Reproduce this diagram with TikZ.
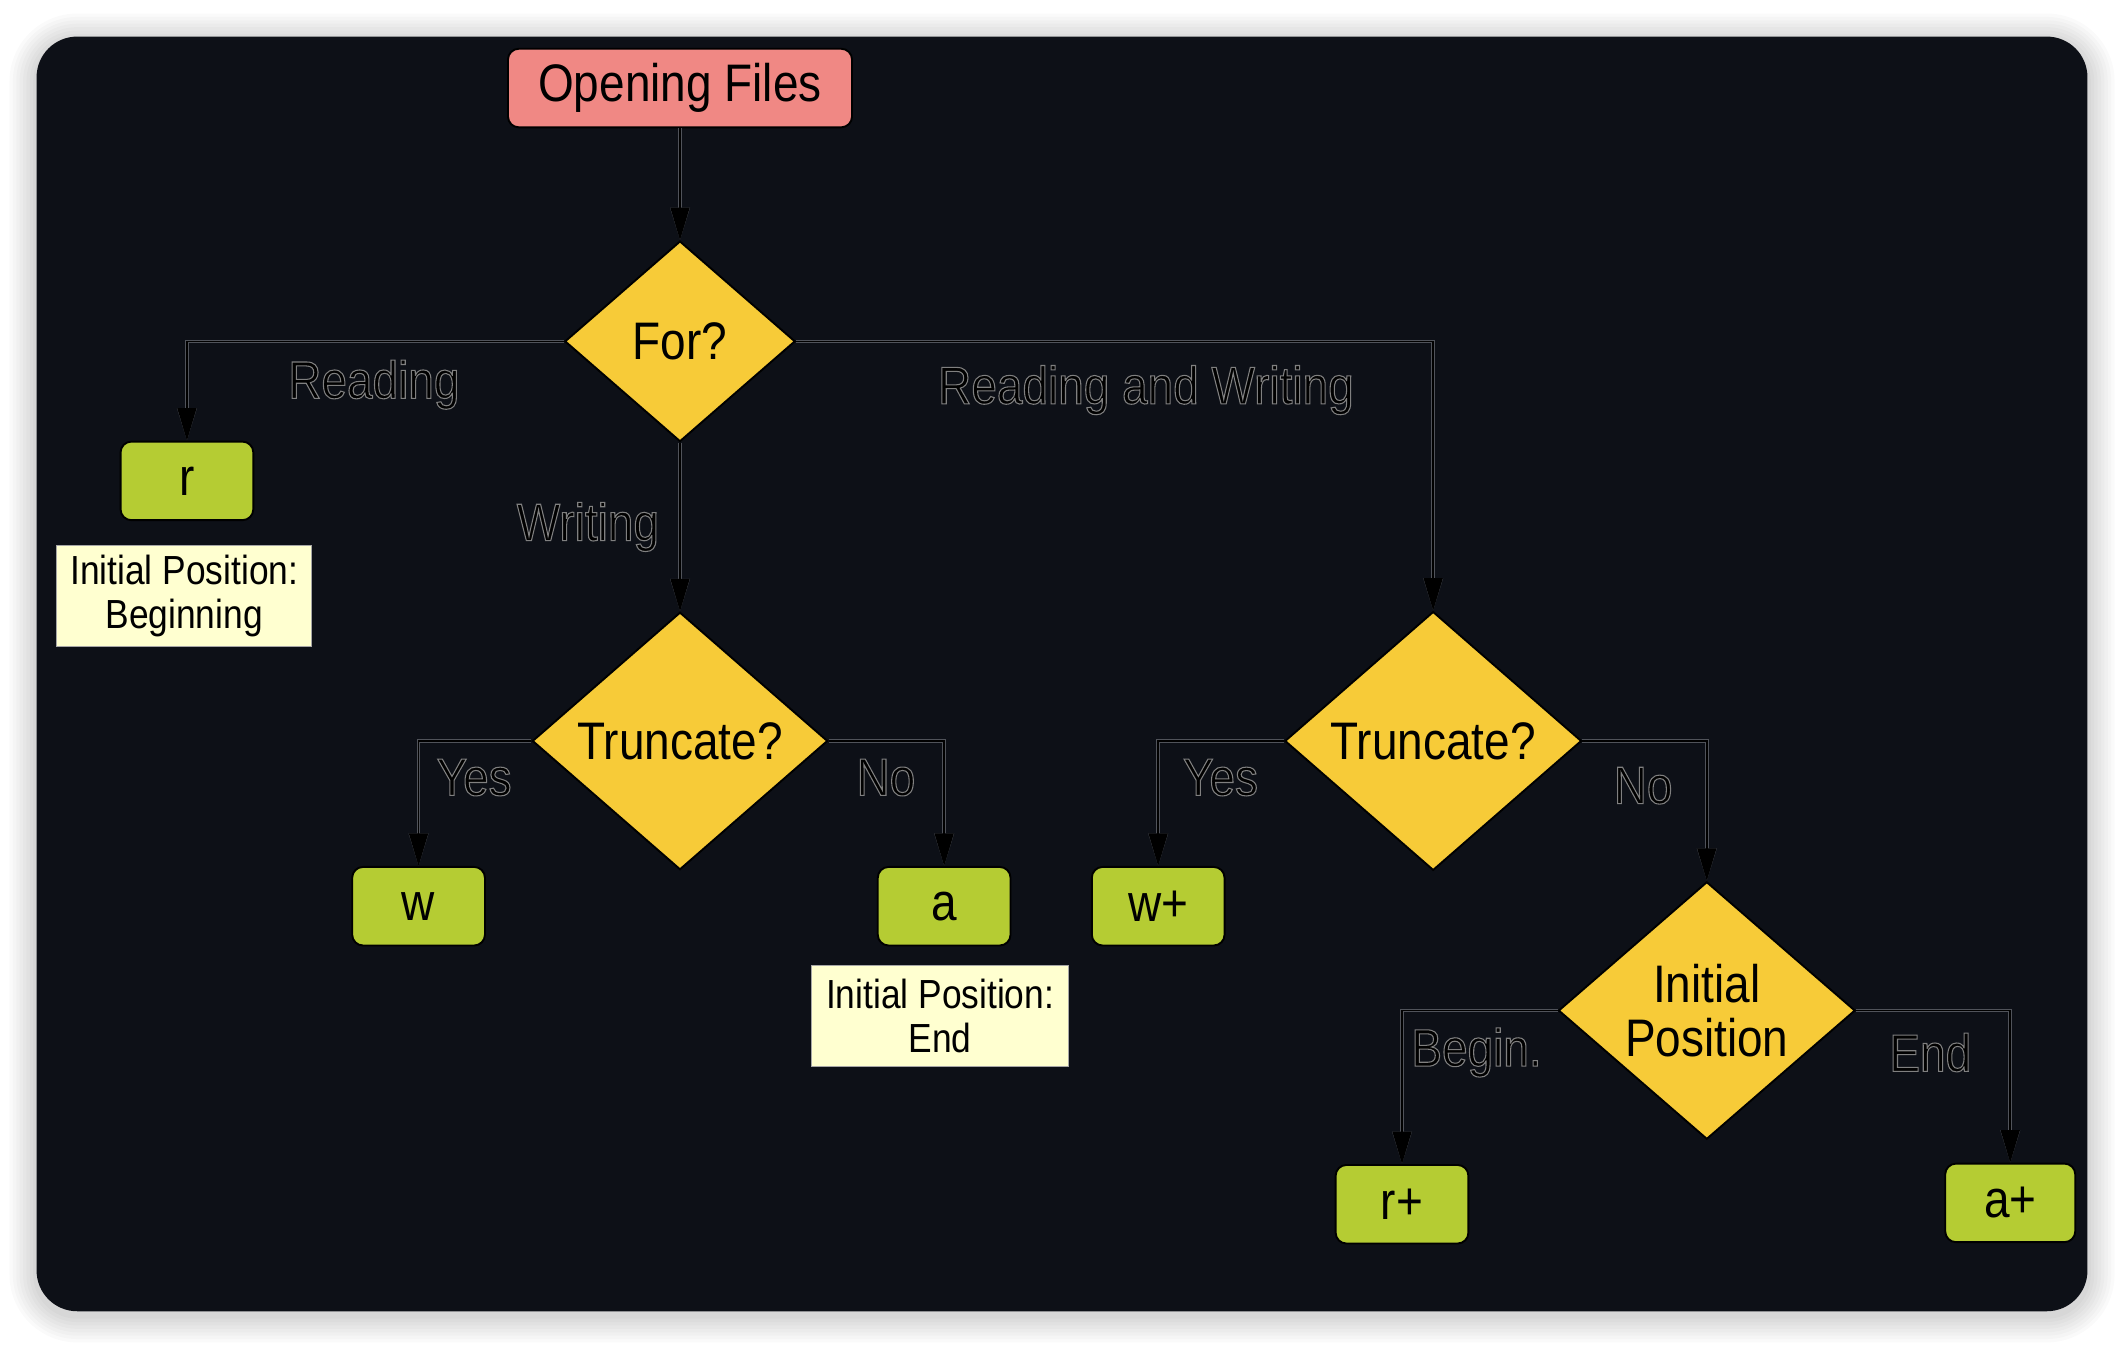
\documentclass[tikz,border=0pt]{standalone}
\usepackage{fontspec}
\setmainfont{Liberation Sans}[FakeStretch=0.87]
\newfontfamily\hollowf{Liberation Sans}[FakeStretch=0.87,FakeBold=2]
\usetikzlibrary{shapes.geometric,arrows.meta}
\definecolor{bgdark}{RGB}{13,16,23}
\definecolor{salmon}{RGB}{240,136,132}
\definecolor{dyellow}{RGB}{247,203,56}
\definecolor{bgreen}{RGB}{181,204,51}
\definecolor{notey}{RGB}{255,255,208}
\definecolor{halo}{RGB}{80,83,90}
\newcommand\hol[1]{\special{pdf:bcolor [0] [0.5]}{\hollowf #1}\special{pdf:ecolor}}
\begin{document}
\begin{tikzpicture}[x=1pt,y=-1pt,
  big/.style={font=\fontsize{39}{44}\selectfont},
  startbox/.style={draw=black, line width=1.4pt, fill=salmon, rounded corners=8pt, minimum width=254pt, minimum height=58pt, inner sep=0pt, big},
  modebox/.style={draw=black, line width=1.4pt, fill=bgreen, rounded corners=8pt, minimum width=98pt, minimum height=58pt, inner sep=0pt, big},
  decision/.style={diamond, aspect=1.15, draw=black, line width=1.4pt, fill=dyellow, inner sep=0pt, big, align=center},
  notebox/.style={draw=gray!70, line width=0.6pt, fill=notey, inner sep=0pt, align=center, font=\fontsize{30}{32}\selectfont},
  lbl/.style={font=\fontsize{39}{44}\selectfont, inner sep=0pt},
  conn/.style={draw=black, line width=1.2pt, -{Triangle[length=24pt,width=14pt]}, preaction={draw=halo, line width=2.6pt}},
]
\useasboundingbox (0,0) rectangle (1568,995);
\fill[white] (0,0) rectangle (1568,995);
\foreach \i in {1,...,8} {
  \pgfmathsetmacro\d{2.5*\i}
  \pgfmathsetmacro\rr{30+\d}
  \fill[black, opacity=0.018, rounded corners=\rr pt] (27-\d,27-\d+3) rectangle (1541+\d,968+\d+3);
}
\fill[bgdark, rounded corners=30pt] (27,27) rectangle (1541,968);

\node[startbox] (open) at (502,65) {Opening Files};
\node[decision, minimum width=170pt, minimum height=148pt] (for) at (502,252) {For?};
\node[modebox] (r) at (138,355) {r};
\node[notebox, minimum width=188pt, minimum height=74pt] (n1) at (136,440) {Initial Position:\\Beginning};
\node[decision, minimum width=218pt, minimum height=190pt] (t1) at (502,547) {Truncate?};
\node[modebox] (w) at (309,669) {w};
\node[modebox] (a) at (697,669) {a};
\node[notebox, minimum width=190pt, minimum height=75pt] (n2) at (694,750) {Initial Position:\\End};
\node[decision, minimum width=219pt, minimum height=191pt] (t2) at (1058,547) {Truncate?};
\node[modebox] (wp) at (855,669) {w+};
\node[decision, minimum width=219pt, minimum height=190pt, font=\fontsize{39}{40}\selectfont] (ip) at (1260,746) {Initial\\Position};
\node[modebox] (rp) at (1035,889) {r+};
\node[modebox, minimum width=96pt] (ap) at (1484,888) {a+};

\draw[conn] (open.south) -- (for.north);
\draw[conn] (for.west) -| (r.north);
\draw[conn] (for.south) -- (t1.north);
\draw[conn] (for.east) -| (t2.north);
\draw[conn] (t1.west) -| (w.north);
\draw[conn] (t1.east) -| (a.north);
\draw[conn] (t2.west) -| (wp.north);
\draw[conn] (t2.east) -| (ip.north);
\draw[conn] (ip.west) -| (rp.north);
\draw[conn] (ip.east) -| (ap.north);

\node[lbl] (lread) at (276,284) {\hol{Reading}};
\node[lbl] (lwrite) at (434,389) {\hol{Writing}};
\node[lbl] (lrw) at (846,288) {\hol{Reading and Writing}};
\node[lbl] (ly1) at (350,574) {\hol{Yes}};
\node[lbl] (ln1) at (654,574) {\hol{No}};
\node[lbl] (ly2) at (901,574) {\hol{Yes}};
\node[lbl] (ln2) at (1213,580) {\hol{No}};
\node[lbl] (lbeg) at (1090,777) {\hol{Begin.}};
\node[lbl] (lend) at (1425,777) {\hol{End}};
\end{tikzpicture}
\end{document}
